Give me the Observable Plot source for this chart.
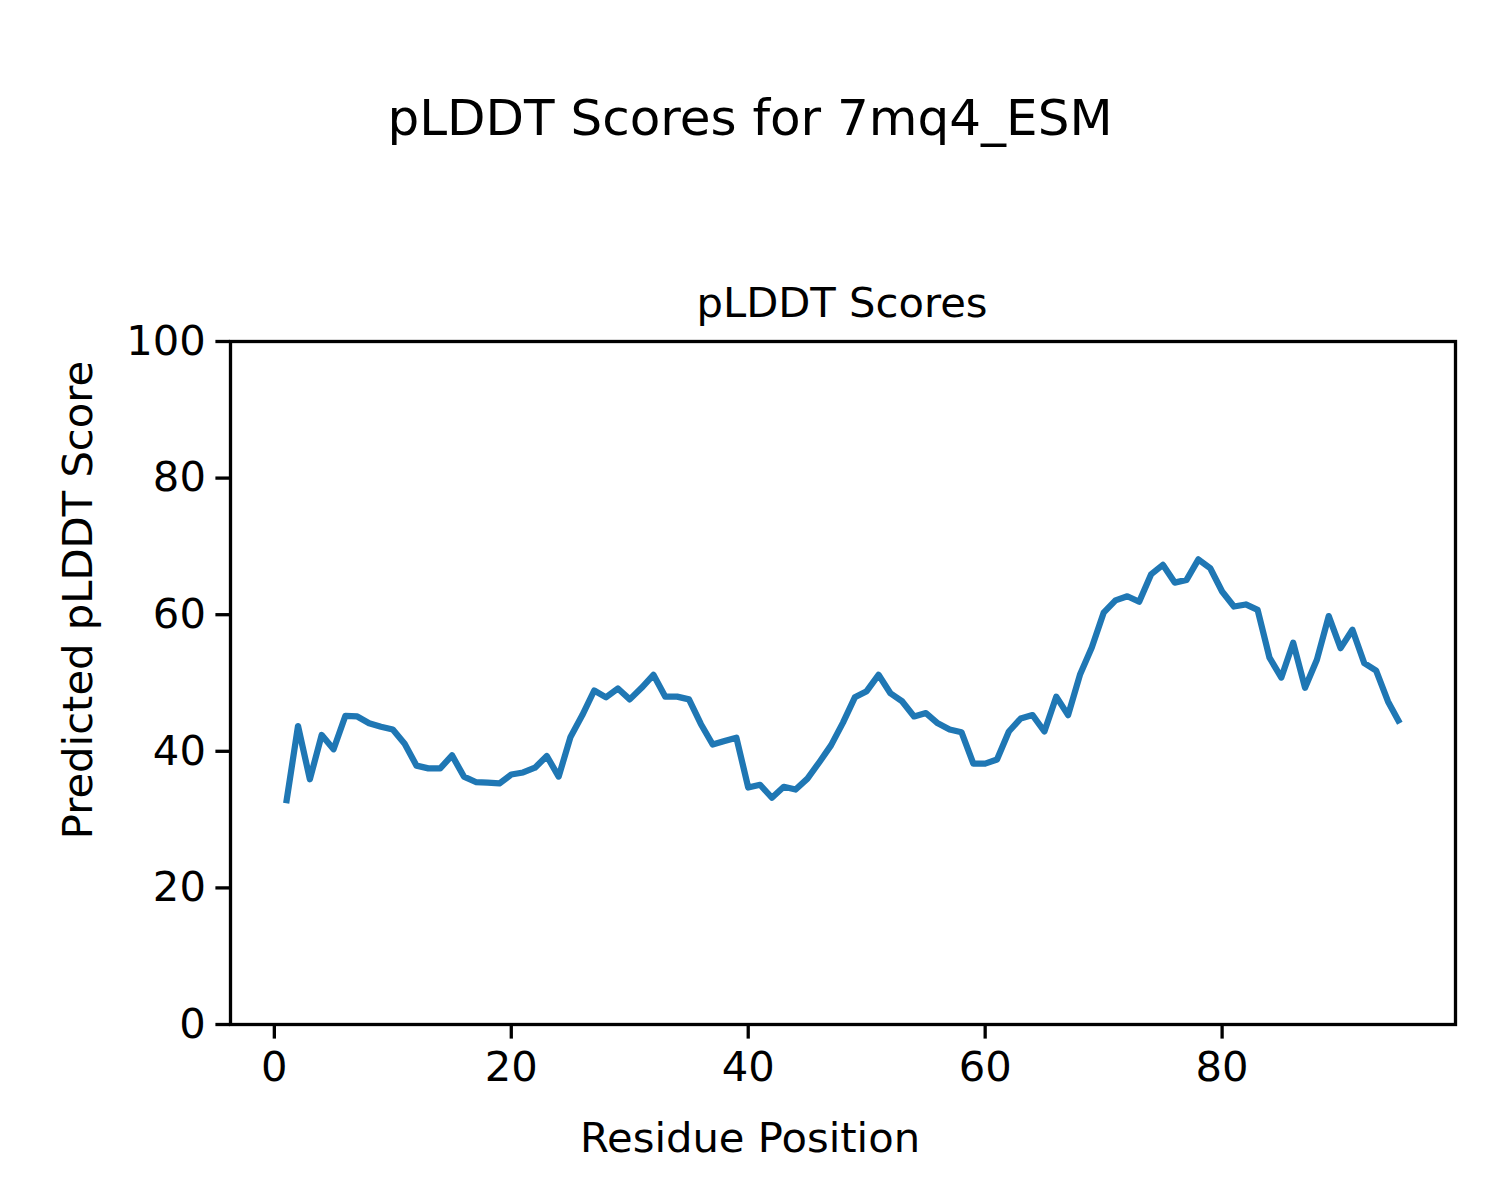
<!DOCTYPE html>
<html>
<head>
<meta charset="utf-8">
<script src="https://cdn.jsdelivr.net/npm/d3@7"></script>
<script src="https://cdn.jsdelivr.net/npm/@observablehq/plot@0.6"></script>
<style>
  html, body { margin: 0; padding: 0; background: #fff; }
  #wrap { position: relative; width: 1500px; height: 1200px; font-family: "DejaVu Sans", sans-serif; color: #000; }
  .lbl { position: absolute; white-space: nowrap; line-height: 1; }
</style>
</head>
<body>
<div id="wrap">
  <div class="lbl" id="suptitle" style="left:750px; top:118px; transform:translate(-50%,-50%); font-size:50px;">pLDDT Scores for 7mq4_ESM</div>
  <div class="lbl" id="axtitle" style="left:842px; top:303px; transform:translate(-50%,-50%); font-size:41.7px;">pLDDT Scores</div>
  <div class="lbl" id="xlabel" style="left:750px; top:1138px; transform:translate(-50%,-50%); font-size:41.7px;">Residue Position</div>
  <div class="lbl" id="ylabel" style="left:78px; top:600px; transform:translate(-50%,-50%) rotate(-90deg); font-size:41.7px;">Predicted pLDDT Score</div>
</div>
<script>
const residues = d3.range(1, 96);
const plddt = [
  32.4, 43.7, 35.9, 42.4, 40.3, 45.2, 45.1, 44.1, 43.6, 43.2,
  41.1, 37.9, 37.5, 37.5, 39.4, 36.3, 35.5, 35.4, 35.3, 36.6,
  36.9, 37.6, 39.3, 36.3, 42.1, 45.3, 48.9, 47.9, 49.2, 47.6,
  49.3, 51.2, 48.0, 48.0, 47.6, 44.0, 41.0, 41.5, 42.0, 34.7,
  35.1, 33.2, 34.8, 34.4, 36.0, 38.4, 40.9, 44.2, 47.9, 48.8,
  51.2, 48.5, 47.3, 45.1, 45.6, 44.1, 43.2, 42.8, 38.2, 38.2,
  38.8, 42.9, 44.8, 45.3, 42.9, 48.0, 45.3, 51.2, 55.2, 60.3,
  62.1, 62.7, 61.9, 65.9, 67.3, 64.7, 65.1, 68.1, 66.8, 63.4,
  61.2, 61.5, 60.7, 53.7, 50.8, 55.9, 49.3, 53.4, 59.8, 55.1,
  57.8, 52.9, 51.8, 47.3, 44.1
];
const xTicks = [0, 20, 40, 60, 80];
const yTicks = [0, 20, 40, 60, 80, 100];

const data = residues.map((r, i) => ({residue: r, score: plddt[i]}));

const chart = Plot.plot({
  width: 1500,
  height: 1200,
  marginLeft: 230,
  marginRight: 45,
  marginTop: 341,
  marginBottom: 176,
  style: { fontFamily: "DejaVu Sans, sans-serif", background: "transparent", color: "#000" },
  x: { domain: [-3.7, 99.7] },
  y: { domain: [0, 100] },
  marks: [
    Plot.axisX({ ticks: xTicks, tickSize: 14.6, tickPadding: 12, strokeWidth: 3.3, fontSize: 41.7, label: null, tickFormat: d => String(d) }),
    Plot.axisY({ ticks: yTicks, tickSize: 14.6, tickPadding: 10, strokeWidth: 3.3, fontSize: 41.7, label: null, tickFormat: d => String(d) }),
    Plot.line(data, { x: "residue", y: "score", stroke: "#1f77b4", strokeWidth: 6.25, strokeLinejoin: "round", strokeLinecap: "butt" }),
    Plot.frame({ stroke: "#000", strokeWidth: 3.3 })
  ]
});
chart.style.position = "absolute";
chart.style.left = "0px";
chart.style.top = "0px";
document.getElementById("wrap").prepend(chart);
</script>
</body>
</html>
